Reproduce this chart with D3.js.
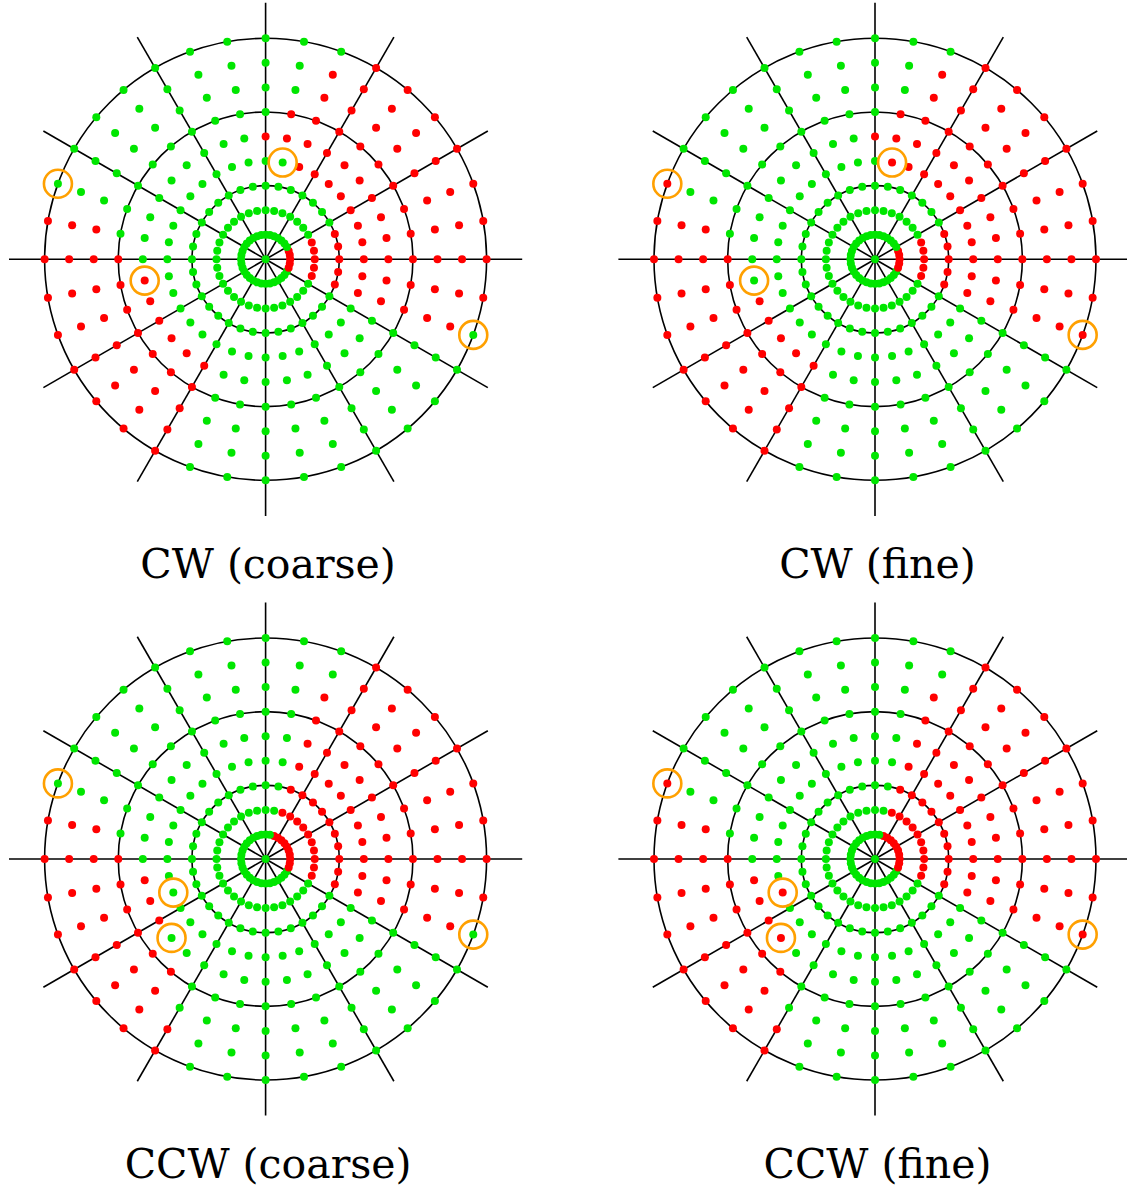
<!DOCTYPE html>
<html>
<head>
<meta charset="utf-8">
<script src="https://cdn.jsdelivr.net/npm/d3@7"></script>
<style>
  body { margin: 0; background: #fff; }
  svg { display: block; }
  .ring { fill: none; stroke: #000; stroke-width: 1.6; }
  .spoke { stroke: #000; stroke-width: 1.6; }
  .mark { fill: none; stroke: #ffa000; stroke-width: 2.6; }
  .title { font-family: "DejaVu Serif", serif; font-size: 41px; text-anchor: middle; fill: #000; }
</style>
</head>
<body>
<script>
var w = 1127;
var h = 1189;

var titles = ["CW (coarse)", "CW (fine)", "CCW (coarse)", "CCW (fine)"];
var rings = [0, 1, 2, 3, 4, 5, 6, 7, 8, 9];
var angles = d3.range(0, 360, 10);
var gridRings = [3, 6, 9];
var spokeAngles = d3.range(0, 360, 30);
var spokeEnd = 10.45;

// red arcs for rings k = 1..9, [from, to] in degrees counter-clockwise from east
var redCWCoarse = [
  [[340, 20]], [[340, 20]], [[340, 20]],
  [[340, 70]], [[340, 90], [190, 240]], [[340, 80], [180, 240]],
  [[340, 70], [170, 240]], [[340, 70], [170, 240]], [[350, 60], [170, 240]]
];
var redCWFine = [
  [[340, 20]], [[340, 20]], [[340, 20]],
  [[340, 80]], [[340, 90], [200, 240]], [[340, 80], [180, 240]],
  [[340, 70], [170, 240]], [[340, 70], [170, 240]], [[340, 60], [160, 240]]
];
var redCCWCoarse = [
  [[340, 70]], [[340, 70]], [[340, 70]],
  [[340, 70]], [[340, 70], [190, 210]], [[340, 70], [180, 230]],
  [[340, 70], [170, 230]], [[340, 60], [170, 240]], [[350, 60], [170, 240]]
];
var redCCWFine = [
  [[340, 70]], [[340, 70]], [[340, 70]],
  [[340, 70], [200, 200]], [[340, 70], [190, 220]], [[340, 70], [180, 230]],
  [[340, 70], [170, 230]], [[340, 60], [170, 240]], [[340, 60], [160, 240]]
];

// circled points [ring, angle]
var cwMarked = [[9, 160], [4, 80], [5, 190], [9, 340]];
var ccwMarked = [[9, 160], [5, 220], [4, 200], [9, 340]];

var redArcs = [redCWCoarse, redCWFine, redCCWCoarse, redCCWFine];
var marked = [cwMarked, cwMarked, ccwMarked, ccwMarked];

var colX = [265.6, 875];
var rowY = [259.3, 859];

var rScale = d3.scaleLinear().domain([0, 9]).range([0, 221]);
var aScale = d3.scaleLinear().domain([0, 360]).range([0, 2 * Math.PI]);

function px(k, a) { return rScale(k) * Math.cos(aScale(a)); }
function py(k, a) { return -rScale(k) * Math.sin(aScale(a)); }

function isRed(arcs, k, a) {
  if (k === 0) return false;
  return arcs[k - 1].some(function(r) {
    if (r[0] <= r[1]) return a >= r[0] && a <= r[1];
    return a >= r[0] || a <= r[1];
  });
}

var svg = d3.select("body")
            .append("svg")
            .attr("width", w)
            .attr("height", h);

svg.append("rect").attr("width", w).attr("height", h).attr("fill", "#fff");

titles.forEach(function(title, i) {
  var g = svg.append("g")
             .attr("transform", "translate(" + colX[i % 2] + "," + rowY[Math.floor(i / 2)] + ")");

  // spokes
  g.selectAll(".spoke")
   .data(spokeAngles)
   .enter()
   .append("line")
   .attr("class", "spoke")
   .attr("x1", 0).attr("y1", 0)
   .attr("x2", function(d) { return px(spokeEnd, d); })
   .attr("y2", function(d) { return py(spokeEnd, d); });

  // grid circles
  g.selectAll(".ring")
   .data(gridRings)
   .enter()
   .append("circle")
   .attr("class", "ring")
   .attr("r", function(d) { return rScale(d); });

  // sample points
  var pts = [{k: 0, a: 0}];
  rings.slice(1).forEach(function(k) {
    angles.forEach(function(a) { pts.push({k: k, a: a}); });
  });

  g.selectAll(".pt")
   .data(pts)
   .enter()
   .append("circle")
   .attr("class", "pt")
   .attr("cx", function(d) { return px(d.k, d.a); })
   .attr("cy", function(d) { return py(d.k, d.a); })
   .attr("r", 4)
   .attr("fill", function(d) { return isRed(redArcs[i], d.k, d.a) ? "#f00" : "#00e600"; });

  // highlighted points
  g.selectAll(".mark")
   .data(marked[i])
   .enter()
   .append("circle")
   .attr("class", "mark")
   .attr("cx", function(d) { return px(d[0], d[1]); })
   .attr("cy", function(d) { return py(d[0], d[1]); })
   .attr("r", 14);

  g.append("text")
   .attr("class", "title")
   .attr("x", 2.5)
   .attr("y", 319)
   .text(title);
});
</script>
</body>
</html>
